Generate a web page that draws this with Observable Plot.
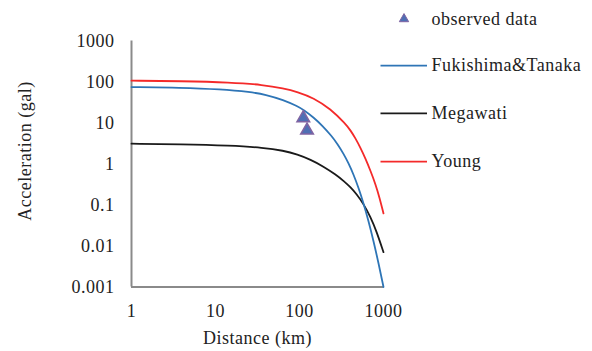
<!DOCTYPE html>
<html>
<head>
<meta charset="utf-8">
<script src="https://cdn.jsdelivr.net/npm/d3@7"></script>
<script src="https://cdn.jsdelivr.net/npm/@observablehq/plot@0.6"></script>
<style>
  html, body { margin: 0; padding: 0; background: #fff; }
  #wrap { position: relative; width: 592px; height: 351px; }
  #legend { position: absolute; left: 0; top: 0; }
</style>
</head>
<body>
<div id="wrap"></div>
<script>
// ---- data ----
const xTicks = [1, 10, 100, 1000];
const yTicks = [0.001, 0.01, 0.1, 1, 10, 100, 1000];
const yTickLabels = ["0.001", "0.01", "0.1", "1", "10", "100", "1000"];

const youngDist = [1, 3.83, 15.1, 37.3, 64.5, 94.6, 146.8, 233.9, 352.7, 404.9, 464.3, 532.6, 610.8, 700, 803.5, 896, 1000];
const youngAcc  = [107.9, 104.9, 98.0, 85.2, 70.0, 57.5, 41.0, 22.1, 9.52, 6.61, 4.21, 2.47, 1.346, 0.685, 0.321, 0.153, 0.0622];

const fukDist = [1, 3.83, 11.5, 26.1, 39.4, 64.5, 94.6, 111.6, 146.8, 187.8, 240.4, 283.3, 334, 383, 439.5, 503.8, 577.8, 662.6, 760.2, 871.3, 1000];
const fukAcc  = [75.3, 72.8, 66.5, 57.2, 49.4, 36.5, 25.6, 20.9, 13.7, 8.55, 4.85, 3.08, 1.79, 1.05, 0.557, 0.265, 0.111, 0.0408, 0.01328, 0.00386, 0.001];

const megDist = [1, 3.83, 15.1, 37.3, 64.5, 94.6, 135.2, 193.1, 268.4, 343.4, 404.9, 477.2, 577.8, 700, 825.6, 1000];
const megAcc  = [3.13, 3.03, 2.81, 2.51, 2.12, 1.71, 1.28, 0.869, 0.557, 0.372, 0.270, 0.185, 0.1066, 0.0514, 0.0229, 0.00706];

const obsDist = [111, 123];
const obsAcc  = [13.2, 6.6];

const seriesNames = ["Fukishima&Tanaka", "Megawati", "Young"];
const seriesColors = ["#2e75b6", "#1a1a1a", "#f42a2a"];
const obsName = "observed data";
const xLabel = ["Distance (km)"];
const yLabel = ["Acceleration (gal)"];

const toRows = (xs, ys) => xs.map((x, i) => ({x, y: ys[i]}));
const young = toRows(youngDist, youngAcc);
const fuk = toRows(fukDist, fukAcc);
const meg = toRows(megDist, megAcc);
const obs = toRows(obsDist, obsAcc);

const FONT = '"Liberation Serif", "Times New Roman", Times, "Noto Serif", "DejaVu Serif", FreeSerif, serif';
const fontSize = "18px";
const ls = "0.5px";

const chart = Plot.plot({
  width: 592,
  height: 351,
  marginLeft: 131,
  marginRight: 209,
  marginTop: 40.5,
  marginBottom: 64.5,
  style: {fontFamily: FONT, fontSize: fontSize, background: "#fff", color: "#222"},
  x: {type: "log", domain: [1, 1000]},
  y: {type: "log", domain: [0.001, 1000]},
  marks: [
    Plot.axisX({ticks: xTicks, tickSize: 0, tickPadding: 17, tickFormat: d => String(d), label: null, fontSize: fontSize, fontFamily: FONT}),
    Plot.axisY({ticks: yTicks, tickSize: 0, tickPadding: 17, tickFormat: d => yTickLabels[yTicks.indexOf(d)], label: null, fontSize: fontSize, fontFamily: FONT}),
    Plot.ruleX([1], {stroke: "#8a8a8a", strokeWidth: 2}),
    Plot.ruleY([0.001], {stroke: "#8a8a8a", strokeWidth: 2}),
    Plot.line(young, {x: "x", y: "y", stroke: seriesColors[2], strokeWidth: 1.8, curve: "basis"}),
    Plot.line(meg, {x: "x", y: "y", stroke: seriesColors[1], strokeWidth: 1.8, curve: "basis"}),
    Plot.line(fuk, {x: "x", y: "y", stroke: seriesColors[0], strokeWidth: 1.8, curve: "basis"}),
    Plot.dot(obs, {x: "x", y: "y", symbol: "triangle", r: 4.7, fill: "#4f6fb4", stroke: "#8064a2", strokeWidth: 1.5}),
    Plot.text(xLabel, {frameAnchor: "bottom", textAnchor: "middle", lineAnchor: "middle", dy: 51.5, fontSize: fontSize, fontFamily: FONT, fill: "#222"}),
    Plot.text(yLabel, {frameAnchor: "left", textAnchor: "middle", lineAnchor: "middle", dx: -106, dy: -13, rotate: -90, fontSize: fontSize, fontFamily: FONT, fill: "#222"})
  ]
});
d3.select(chart).selectAll("text").style("letter-spacing", ls);

const wrap = document.getElementById("wrap");
wrap.appendChild(chart);

// ---- legend ----
const leg = d3.select(wrap).append("svg")
  .attr("id", "legend").attr("width", 592).attr("height", 351)
  .attr("font-family", FONT)
  .attr("font-size", fontSize).style("letter-spacing", ls);

const rowsY = [19, 65.7, 113.3, 161.7];
const textX = 431.5;
leg.append("path")
  .attr("d", d3.symbol(d3.symbolTriangle, 38))
  .attr("transform", `translate(404,${rowsY[0]})`)
  .attr("fill", "#4f6fb4").attr("stroke", "#8064a2").attr("stroke-width", 1);
leg.append("text").attr("x", textX).attr("y", rowsY[0]).attr("dy", "0.32em").attr("fill", "#222").text(obsName);
seriesNames.forEach((name, i) => {
  const y = rowsY[i + 1];
  leg.append("line").attr("x1", 380.5).attr("x2", 427).attr("y1", y).attr("y2", y)
    .attr("stroke", seriesColors[i]).attr("stroke-width", 1.8);
  leg.append("text").attr("x", textX).attr("y", y).attr("dy", "0.32em").attr("fill", "#222").text(name);
});
</script>
</body>
</html>
